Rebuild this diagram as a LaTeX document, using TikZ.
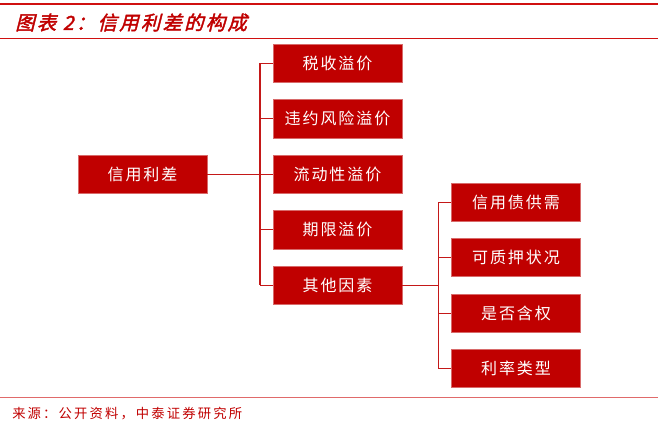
\documentclass[tikz,border=0pt]{standalone}
\usepackage{fontspec}
\setmainfont{Noto Sans CJK SC}
\newfontfamily\boxfont[LetterSpace=12]{Noto Sans CJK SC}
\newfontfamily\titlefont[LetterSpace=12,FakeSlant=0.25,FakeBold=2]{Noto Sans CJK SC}
\newfontfamily\notefont[LetterSpace=16]{Noto Sans CJK SC}
\definecolor{boxred}{HTML}{C00000}
\definecolor{boxedge}{HTML}{D86A6A}
\definecolor{linered}{HTML}{C41818}
\definecolor{rulered}{HTML}{D01010}
\definecolor{notered}{HTML}{E06A6A}
\begin{document}
\begin{tikzpicture}[x=0.75pt,y=-0.75pt,
  box/.style={fill=boxred,draw=boxedge,line width=0.4pt,text=white,
    minimum width=96.5pt,minimum height=28.8pt,inner sep=0pt,
    font=\boxfont\fontsize{12}{13}\selectfont},
  link/.style={draw=linered,line width=0.8pt}]
 \useasboundingbox (0,0) rectangle (670,426);
 % header and footer rules
 \draw[rulered,line width=2pt] (0,4) -- (658,4);
 \node[anchor=west,inner sep=0pt,text=boxred,font=\titlefont\fontsize{14.5}{15}\selectfont] (title) at (15,22.5) {图表 2：信用利差的构成};
 \draw[rulered,line width=0.8pt] (0,38.5) -- (658,38.5);
 \draw[notered,line width=0.9pt] (0,397.7) -- (658,397.7);
 \node[anchor=west,inner sep=0pt,text=boxred,font=\notefont\fontsize{10}{11}\selectfont] (source) at (12,414) {来源：公开资料，中泰证券研究所};
 % boxes
 \node[box] (root) at (142.5,174.2) {信用利差};
 \node[box] (tax) at (337.5,63.3) {税收溢价};
 \node[box] (default) at (337.5,118.8) {违约风险溢价};
 \node[box] (liquid) at (337.5,174.2) {流动性溢价};
 \node[box] (term) at (337.5,229.8) {期限溢价};
 \node[box] (other) at (337.5,285.2) {其他因素};
 \node[box] (supply) at (516,202.3) {信用债供需};
 \node[box] (pledge) at (516,257.5) {可质押状况};
 \node[box] (option) at (516,313.2) {是否含权};
 \node[box] (rate) at (516,368.3) {利率类型};
 % connectors
 \coordinate (j1) at (260,174.2);
 \draw[link] (root) -- (j1);
 \draw[link] (j1 |- tax) -- (j1 |- other);
 \foreach \n in {tax,default,liquid,term,other}
  \draw[link] (j1 |- \n) -- (\n);
 \coordinate (j2) at (438.3,285.2);
 \draw[link] (other) -- (j2);
 \draw[link] (j2 |- supply) -- (j2 |- rate);
 \foreach \n in {supply,pledge,option,rate}
  \draw[link] (j2 |- \n) -- (\n);
\end{tikzpicture}
\end{document}
